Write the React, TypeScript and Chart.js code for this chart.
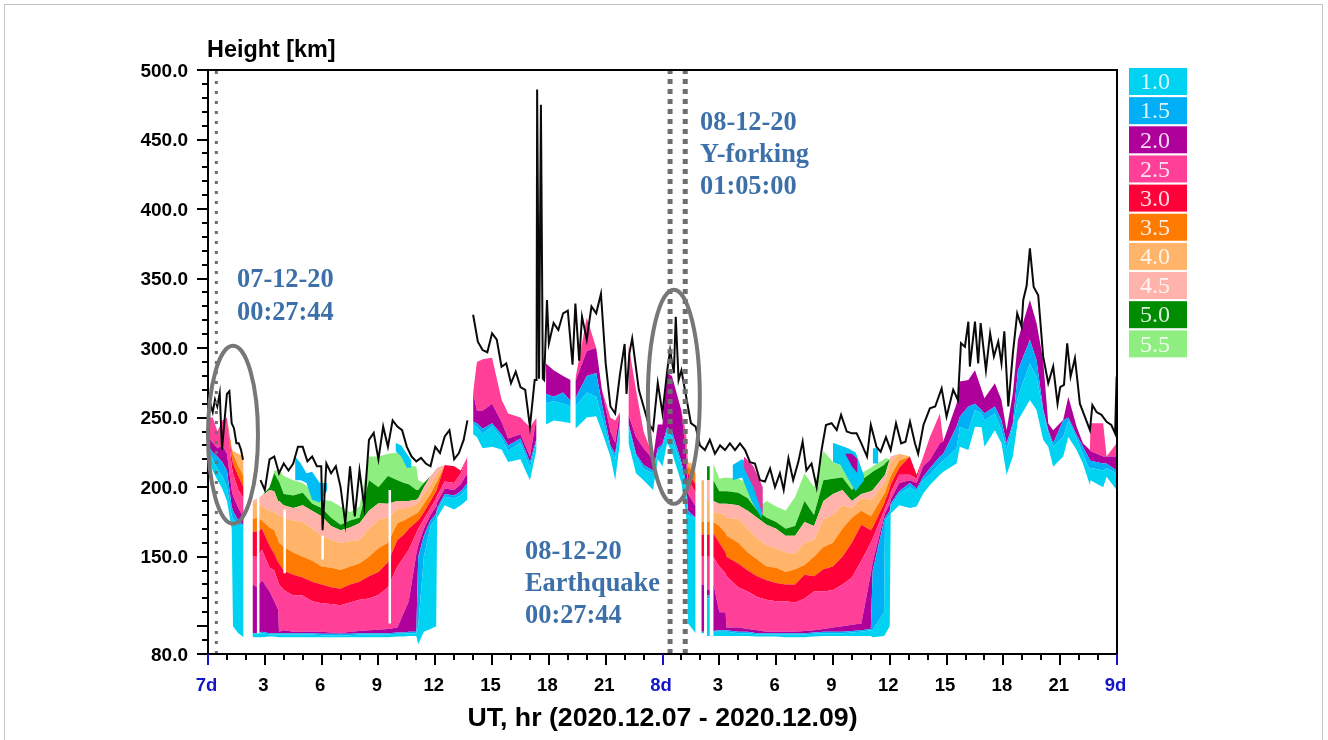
import React, { useEffect, useRef } from "react";
import { Chart, registerables } from "chart.js";

Chart.register(...registerables);

const _ = null;

// Sample times (hours since 7 Dec 00 UT) shared by every frequency band. Rows with a null base are data gaps.
const layerHours = [
  0, 0.25, 0.5, 0.75, 1, 1.25, 1.32, 1.6, 1.88, 2.1,
  2.35, 2.6, 2.85, 3.25, 3.5, 3.7, 3.75, 4, 4.5, 5,
  5.5, 6, 6.5, 7, 7.5, 8, 8.5, 9, 9.5, 10,
  10.35, 10.6, 11, 11.1, 11.4, 11.75, 12.05, 12.1, 12.5, 13,
  13.35, 13.7, 13.85, 14, 14.2, 14.5, 15, 15.5, 15.85, 16.5,
  17, 17.35, 17.6, 17.85, 18.25, 18.75, 19.15, 19.3, 19.4, 20,
  20.5, 20.8, 21.25, 21.5, 21.75, 21.95, 22.2, 22.6, 23, 23.5,
  23.75, 24, 24.25, 24.5, 25, 25.25, 25.35, 25.75, 25.9, 26.05,
  26.2, 26.27, 26.35, 26.5, 26.57, 26.68, 27, 27.33, 27.38, 28,
  28.5, 29, 29.5, 30, 30.5, 31, 31.5, 32, 32.5, 33,
  33.5, 34, 34.5, 35, 35.1, 35.7, 35.75, 36, 36.05, 36.5,
  37.06, 37.42, 37.77, 38.12, 38.65, 38.83, 39.53, 39.7, 40.15, 40.5,
  40.85, 41, 41.55, 41.9, 42.17, 42.5, 42.77, 43.4, 43.75, 44.1,
  44.37, 44.63, 45.16, 45.43, 45.87, 46.2, 46.57, 46.6, 47.27, 47.45,
  47.98,
];

const traceBase = [
  222, 212, 205, 199, 190, 170, 100, 95, 92, _,
  92, 92, 92, 92.5, 92.5, 92, 92, 92, 92, 92,
  92, 92, 92, 92, 92, 92, 92, 92, 92, 92.5,
  92.5, 93, 93, 87, 96, 98, 100, 178, 187, 184,
  187, 191, _, 238, 236, 228, 229, 227, 218, 220,
  205, 227, _, 245, 248, 247, 246, _, 242, 250,
  251, 240, 222, 205, 232, _, 232, 210, 205, 198,
  220, 215, 232, 225, 203, 180, 102, 95, _, 95,
  95, _, 93, 93, _, 93, 93, 93, 93, 93,
  93, 92.5, 92.5, 92.5, 92, 92, 92, 92.5, 93, 93,
  93, 93, 93, 93, 92, 93, 94, 100, 181, 187,
  185, 186, 195.5, 201.5, 209, 211, 217, 229, 226.7, 243.5,
  243, 229, 241, 231.5, 209, 222, 248, 262.7, 255.5, 234,
  229, 214.7, 222, 236, 226.7, 217, 201.5, 205, 200, 207.5,
  198,
];
const top10 = [
  226, 220, 213, 208, 200, 180, 177, 173, 172, _,
  95, 95, 95, 94, 94, 94, 94, 94, 94, 94,
  94, 93.5, 93.5, 93.5, 93.5, 94, 94, 94, 94, 94.5,
  94.5, 95, 95, 100, 150, 172, 178, 183, 193, 192,
  194, 200, _, 245, 243, 238, 244, 235, 226, 232,
  214, 233, _, 260, 262, 260, 258, _, 258, 268,
  265, 250, 228, 220, 245, _, 244, 222, 213, 210,
  225, 229, 240, 236, 215, 198, 180, 178, _, 96,
  96, _, 120, 120, _, 96, 96, 96, 96, 95,
  95, 94, 94, 94, 94, 94, 94, 94.5, 95, 95,
  95, 95.5, 96, 97, 97, 110, 176, 180, 186, 195,
  200, 197, 205, 209, 217, 219, 228, 243.5, 241, 255.5,
  253, 248, 253, 241, 226.7, 243.5, 265, 289, 279.5, 255.5,
  238.7, 229, 236, 248, 235, 224, 212, 214, 212, 213.5,
  210,
];
const top15 = [
  230, 225, 222, 218, 212, 186, 183, 176, 173, _,
  95, 95, 96, 95, 95, 95, 95, 95, 95, 95,
  95, 94.5, 94.5, 94.5, 94.5, 95, 95, 95, 95, 95.5,
  95.5, 96, 96, 150, 165, 176, 181, 185, 195, 194,
  197, 203, _, 247, 246, 242, 246, 238, 230, 235,
  218, 235, _, 267, 265, 268, 262, _, 264, 280,
  282, 260, 230, 224, 247, _, 246, 224, 216, 212,
  228, 231, 243, 240, 218, 203, 183, 178, _, 96,
  96, _, 122, 122, _, 96.5, 97, 97, 97, 96,
  96, 95, 95, 95, 95, 95, 95, 95.5, 96, 96,
  96, 96.5, 97, 98, 140, 176, 178, 183, 188, 197,
  203, 199, 207.5, 213.5, 222, 224, 243.5, 250.7, 258, 260,
  255.5, 253, 258, 248, 231.5, 246, 284, 306, 291.5, 256,
  241, 231.5, 248, 250, 237.5, 229, 219.5, 219, 217, 217,
  212,
];
const top20 = [
  236, 232, 228, 230, 224, 198, 194, 185, 178, _,
  130, 128, 133, 125, 118, 112, 96, 97, 96, 96,
  96, 96, 95.5, 95, 96, 96.5, 97, 97.5, 98, 99,
  110, 118, 152, 158, 170, 180, 186, 189, 199, 198,
  202, 210, _, 268, 255, 255, 260, 247, 235, 238,
  222, 250, _, 289, 284, 280, 277, _, 276, 298,
  300, 270, 240, 232, 254, _, 252, 236, 228, 220,
  245, 245, 282, 280, 255, 222, 195, 186, _, 130,
  130, _, 126, 126, _, 131, 110, 110, 99, 99,
  98, 97, 96, 96, 96, 96, 96.5, 97, 98, 99,
  100, 101, 102, 138, 146, 179, 181, 188, 191, 203,
  205, 203, 215, 219.5, 231.5, 233, 260, 276, 277, 284,
  270, 264, 274.7, 262.7, 241, 267.5, 306, 334.6, 318, 291.5,
  246, 241, 248.5, 265, 243.5, 231.5, 226.7, 226, 222, 222,
  222,
];
const top25 = [
  250, 250, 240, 248, 250, 215, 210, 198, 192, _,
  150, 150, 155, 142, 140, 132, 130, 126, 122, 122,
  118, 116.5, 116, 115, 117, 119, 120, 122.5, 128, 143,
  150, 155, 167, 170, 177, 185, 192, 194, 204, 203,
  210, 222, _, _, 290, 292, 293, 263, 253, 250,
  243, _, _, _, _, _, _, _, 278, 322,
  _, _, 250, 248, _, _, 303, 270, 240, 222,
  _, _, _, _, _, 235, 205, 196, _, 150,
  150, _, 150, 150, _, 150, 143, 138, 136, 128,
  125, 121, 119, 118, 118, 117, 120, 125, 125, 126,
  130, 135, 147, 160, 163, 183, 185, 193, 196, 209,
  209, 206, 222, 236, 253, _, _, _, _, _,
  _, _, _, _, _, _, _, _, _, _,
  _, _, _, _, _, _, _, 246, 246, _,
  231.5,
];
const top30 = [
  _, _, _, _, _, 222, 217, 208, 200, _,
  168, 168, 170, 158, 152, 146, 145, 140, 137, 135,
  132, 130, 128, 127, 130, 132, 136, 139, 146, 162,
  166, 170, 175, 176, 182, 190, 197, 199, 216, 215,
  212, _, _, _, _, _, _, _, _, _,
  _, _, _, _, _, _, _, _, _, _,
  _, _, _, _, _, _, _, _, _, _,
  _, _, _, _, _, 238, 210, 202, _, 166,
  166, _, 166, 166, _, 167, 160, 153, 150, 145,
  140, 136, 133, 131, 130, 130, 137, 136, 141, 143,
  150, 160, 173, 169, 171, 188, 190, 199, 202, 214,
  222, 209, _, _, _, _, _, _, _, _,
  _, _, _, _, _, _, _, _, _, _,
  _, _, _, _, _, _, _, _, _, _,
  _,
];
const top35 = [
  _, _, _, _, _, 228, 224, 215, 208, _,
  177, 178, 176, 171, 169, 162, 160, 157, 153, 150,
  147, 143, 142, 140.5, 143, 145, 150, 156, 160, 174,
  176, 178, 181, 182, 188, 195, 203, 204, _, _,
  _, _, _, _, _, _, _, _, _, _,
  _, _, _, _, _, _, _, _, _, _,
  _, _, _, _, _, _, _, _, _, _,
  _, _, _, _, _, _, 215, 210, _, 175,
  175, _, 175, 175, _, 175, 172, 167, 165, 160,
  153, 148, 143, 142, 139, 141, 144, 150, 157, 160,
  170, 178, 183, 179, 181, 195, 196, 206, 208, 219,
  _, _, _, _, _, _, _, _, _, _,
  _, _, _, _, _, _, _, _, _, _,
  _, _, _, _, _, _, _, _, _, _,
  _,
];
const top40 = [
  _, _, _, _, _, _, 226, 224, 222, _,
  188, 190, 186, 183, 182, 180, 180, 178, 176, 175,
  170, 165, 162, 160, 161, 162, 170, 176.5, 178, 184,
  185, 185, 188, 189, 195, 202, 209, 210, _, _,
  _, _, _, _, _, _, _, _, _, _,
  _, _, _, _, _, _, _, _, _, _,
  _, _, _, _, _, _, _, _, _, _,
  _, _, _, _, _, _, 218, 216, _, 205,
  205, _, 190, 190, _, 182, 181, 180, 178, 177,
  170, 163, 158, 156, 153, 152, 160, 162, 177, 180,
  187, 185, 192, 191, 192, 203, 204, 216, 218, 224,
  _, _, _, _, _, _, _, _, _, _,
  _, _, _, _, _, _, _, _, _, _,
  _, _, _, _, _, _, _, _, _, _,
  _,
];
const top45 = [
  _, _, _, _, _, _, _, _, _, _,
  190, 192, 194, 198, 197, 190, 190, 187, 185, 187,
  183, 179, 172, 169, 171, 174, 183, 188.5, 188, 190,
  190, 190, 191, 192, 200, 208, 213, 214, _, _,
  _, _, _, _, _, _, _, _, _, _,
  _, _, _, _, _, _, _, _, _, _,
  _, _, _, _, _, _, _, _, _, _,
  _, _, _, _, _, _, _, _, _, _,
  _, _, 205, 205, _, 190, 188, 188, 188, 187,
  183, 178, 173, 170, 165, 165, 175, 172, 190, 195,
  198, 190, 195, 197, 198, 208, 209, 220, 222, _,
  _, _, _, _, _, _, _, _, _, _,
  _, _, _, _, _, _, _, _, _, _,
  _, _, _, _, _, _, _, _, _, _,
  _,
];
const top50 = [
  _, _, _, _, _, _, _, _, _, _,
  _, _, _, 200, 210, 205, 204, 195, 194, 196,
  188, 185, 178, 173, 176, 178, 205, 200, 208, 205,
  203, 202, 198, 198, 203, _, _, _, _, _,
  _, _, _, _, _, _, _, _, _, _,
  _, _, _, _, _, _, _, _, _, _,
  _, _, _, _, _, _, _, _, _, _,
  _, _, _, _, _, _, _, _, _, _,
  _, _, 215, 215, _, 205, 197, 197, 197, 196,
  192, 183, 178, 175, 170, 172, 190, 180, 205, 206,
  207, 198, 205, 210, 211, 216, 217, _, _, _,
  _, _, _, _, _, _, _, _, _, _,
  _, _, _, _, _, _, _, _, _, _,
  _, _, _, _, _, _, _, _, _, _,
  _,
];
const top55 = [
  _, _, _, _, _, _, _, _, _, _,
  _, _, _, _, 212, 212, 212, 208, 205, 203,
  198, 191, 190, 186, 182, 186, 222, 222, 224, 225,
  220, 215, 215, 205, _, _, _, _, _, _,
  _, _, _, _, _, _, _, _, _, _,
  _, _, _, _, _, _, _, _, _, _,
  _, _, _, _, _, _, _, _, _, _,
  _, _, _, _, _, _, _, _, _, _,
  _, _, _, _, _, 217, 206, 207, 207, 206,
  203, 185, 190, 186, 183, 193, 210, 200, 226, 218,
  215, 205, 210, 214, 215, 220, 221, _, _, _,
  _, _, _, _, _, _, _, _, _, _,
  _, _, _, _, _, _, _, _, _, _,
  _, _, _, _, _, _, _, _, _, _,
  _,
];

const bandLabels = ["1.0", "1.5", "2.0", "2.5", "3.0", "3.5", "4.0", "4.5", "5.0", "5.5"];
const bandColors = ["#00d2f2", "#00aff5", "#b0009c", "#ff3f98", "#ff0038", "#ff7a00", "#ffb469", "#ffb3ab", "#008c00", "#8fee80"];
const bandTops = [top10, top15, top20, top25, top30, top35, top40, top45, top50, top55];

// Black upper envelope (km); null = gap
const blackHours = [
  0, 0.12, 0.25, 0.37, 0.49, 0.62, 0.74, 0.86, 1, 1.13, 1.25, 1.37, 1.5, 1.62, 1.74, 1.85, 2.2,
  2.77, 3, 3.25, 3.5, 3.75, 4, 4.25, 4.5, 4.75, 5, 5.25, 5.5, 5.75, 5.98, 6.05, 6.25, 6.5, 6.75, 7, 7.25, 7.5, 7.75, 8, 8.25,
  8.5, 8.75, 9, 9.25, 9.5, 9.75, 10, 10.25, 10.5, 10.75, 11, 11.25, 11.5, 11.75, 12, 12.25, 12.5, 12.75, 13, 13.25, 13.5, 13.7, 13.85,
  14, 14.25, 14.5, 14.75, 15, 15.25, 15.5, 15.75, 16, 16.25, 16.5, 16.75, 17, 17.25, 17.35, 17.38, 17.48, 17.58, 17.68, 17.75,
  17.9, 18, 18.25, 18.5, 18.75, 19, 19.25, 19.4, 19.6, 19.75, 20, 20.25, 20.5, 20.75, 21, 21.25, 21.5, 21.75, 22, 22.1, 22.25, 22.4,
  22.75, 23, 23.25, 23.5, 23.75, 24, 24.25, 24.4, 24.6, 24.7, 24.85, 25, 25.25, 25.5, 25.75,
  25.98, 26.24, 26.5, 26.77, 27.04, 27.3, 27.56, 27.83, 28.09, 28.36, 28.62, 28.88, 29.15, 29.41, 29.68, 29.94, 30.2, 30.4, 30.65, 30.9,
  31.17, 31.4, 31.6, 31.87, 32.14, 32.4, 32.63, 32.93, 33.2, 33.43, 33.73, 34, 34.25, 34.5, 34.8, 35, 35.3, 35.52, 35.8, 36.05,
  36.33, 36.6, 36.83, 37.07, 37.33, 37.5, 37.78, 38.12, 38.4, 38.74, 39, 39.35, 39.6, 39.76, 39.97, 40.15, 40.23, 40.5, 40.67, 40.8,
  41.08, 41.3, 41.5, 41.73, 41.9, 42.05, 42.26, 42.5, 42.73, 42.96, 43.05, 43.23, 43.4, 43.6, 43.84, 44.1, 44.37, 44.63, 44.86, 45,
  45.2, 45.37, 45.55, 45.78, 46.04, 46.3, 46.57, 46.7, 46.92, 47.18, 47.45, 47.7, 47.9, 47.98,
];
const blackKm = [
  248, 260, 254, 263, 258, 267.6, 227, 246, 267, 269, 246, 242.4, 231.6, 231.6, 227, 219.7, _,
  205, 198, 220, 222, 210, 217, 212, 217, 229, 229, 218.5, 222, 215, 215, 169, 217, 210, 215, 200, 174, 215, 179, 212, 186,
  234, 239, 220, 243.6, 229, 248, 243.6, 241, 229, 222, 218.5, 221, 217, 215, 229, 224.5, 236.5, 241, 220, 224.5, 234, 248, _,
  324, 304.6, 298.6, 297, 310.6, 306, 286.6, 289, 274.7, 283, 272, 270, 243.5, 277, 277, 486, 278, 475, 278, 277,
  334.6, 303.4, 318, 313, 325, 327, 288, 332, 291, 322.6, 306, 330, 325, 339, 289, 258, 253, 280.7, 303, 267, 296, 307,
  270, 258, 246, 241, 275, 253, 284, 298.6, 282, 322.6, 277, 284, 265, 246, 243.5,
  230, 226.7, 234, 224, 230, 226.7, 231.5, 226.7, 231.5, 226.7, 218, 217, 205, 204, 213.5, 200, 210, 198, 220.7, 205,
  218, 232.7, 212, 217, 200, 226.7, 244.7, 246, 241, 252, 240, 238.7, 238.7, 231.5, 222, 244.7, 229, 225.5, 236, 226.7,
  246, 231.5, 232.7, 247, 231.5, 224, 244.7, 256.7, 258, 271, 250.7, 270, 262.7, 303.5, 301, 319, 286.7, 319, 289, 318,
  284, 310.7, 294, 304.7, 289, 312, 258, 296, 325, 315.5, 334.6, 345, 371.8, 344, 338, 294, 274.7, 286.7, 260, 272,
  273.5, 303.5, 279.5, 292.7, 260, 250.7, 241, 259, 254, 252, 247, 244.7, 238.7, 279.5,
];

// Echo patches seen above the main trace: [hours], [low km], [high km]
const patchBlue1Hours = [4.6, 4.9, 5.2, 5.5, 5.9, 6.3];
const patchBlue1Low = [205, 205, 203, 191, 189, 198];
const patchBlue1High = [222, 217, 210, 211, 203, 203];
const patchBlue2Hours = [9.9, 10.2, 10.5, 10.75];
const patchBlue2Low = [226, 222, 214, 214];
const patchBlue2High = [232, 230, 224, 219];
const patchBlue3Hours = [27.7, 28.2, 28.7, 29.25];
const patchBlue3Low = [205, 207, 190, 177];
const patchBlue3High = [216, 220, 216, 190];
const patchPink1Hours = [28.3, 28.8, 29.3];
const patchPink1Low = [214, 200, 180];
const patchPink1High = [222, 215, 200];
const patchBlue4Hours = [33, 33.4, 33.8, 34.2, 34.65];
const patchBlue4Low = [218, 216, 206, 197, 205];
const patchBlue4High = [232, 230, 228, 225, 208];
const patchMagentaHours = [33.65, 34, 34.3];
const patchMagentaLow = [224, 215, 210];
const patchMagentaHigh = [224, 224, 220];
const patchBlue5Hours = [35.1, 35.4];
const patchBlue5Low = [217, 217];
const patchBlue5High = [228, 228];

// White no-data columns
const stripeHours = [2.65, 4.05, 6.05, 9.6];
const stripeTop = [194, 184, 165, 198];
const stripeBottom = [95, 138, 148, 102];

const eventHours = [0.44, 24.4, 25.2];
const xMajor = [0, 3, 6, 9, 12, 15, 18, 21, 24, 27, 30, 33, 36, 39, 42, 45, 48];
const yLabelled = [80, 150, 200, 250, 300, 350, 400, 450, 500];
const yUnlabelledMajor = [100];

const noteLeft = ["07-12-20", "00:27:44"];
const noteRight = ["08-12-20", "Y-forking", "01:05:00"];
const noteQuake = ["08-12-20", "Earthquake", "00:27:44"];

const pts = (xs: number[], ys: (number | null)[]) => xs.map((x, i) => ({ x, y: ys[i] }));

function bandDatasets() {
  const out: any[] = [];
  out.push({
    label: "base",
    data: pts(layerHours, traceBase),
    borderWidth: 0,
    pointRadius: 0,
    fill: false,
    tension: 0,
  });
  let carry: (number | null)[] = traceBase;
  bandTops.forEach((arr, b) => {
    const ys = arr.map((v, i) => (traceBase[i] === null ? null : v ?? carry[i]));
    carry = ys;
    out.push({
      label: bandLabels[b],
      data: pts(layerHours, ys),
      borderWidth: 0,
      pointRadius: 0,
      backgroundColor: bandColors[b],
      fill: "-1",
      tension: 0,
    });
  });
  return out;
}

function patch(name: string, hours: number[], low: number[], high: number[], color: string) {
  return [
    { label: name + " low", data: pts(hours, low), borderWidth: 0, pointRadius: 0, fill: false },
    { label: name, data: pts(hours, high), borderWidth: 0, pointRadius: 0, backgroundColor: color, fill: "-1" },
  ];
}

const pageArt = {
  id: "pageArt",
  beforeDraw(chart: any) {
    const c = chart.ctx;
    c.save();
    c.fillStyle = "#fff";
    c.fillRect(0, 0, chart.width, chart.height);
    c.strokeStyle = "#c4c4c4";
    c.lineWidth = 1;
    c.strokeRect(4.5, 4.5, 1318, 800);
    c.restore();
  },
  afterDraw(chart: any) {
    const c = chart.ctx;
    const { x, y } = chart.scales;
    const a = chart.chartArea;
    c.save();
    // frame
    c.strokeStyle = "#000";
    c.lineWidth = 2;
    c.strokeRect(a.left, a.top, a.right - a.left, a.bottom - a.top);
    // y ticks
    c.lineWidth = 2;
    c.beginPath();
    for (let v = 80; v <= 500; v += 10) {
      const major = yLabelled.includes(v) || yUnlabelledMajor.includes(v);
      const p = Math.round(y.getPixelForValue(v));
      c.moveTo(a.left, p);
      c.lineTo(a.left - (major ? 11 : 6), p);
    }
    c.stroke();
    // x ticks
    for (let h = 0; h <= 48; h++) {
      const p = Math.round(x.getPixelForValue(h));
      c.beginPath();
      c.strokeStyle = h % 24 === 0 ? "#1414c8" : "#000";
      c.moveTo(p, a.bottom);
      c.lineTo(p, a.bottom + (xMajor.includes(h) ? 11 : 6));
      c.stroke();
    }
    // ellipses
    c.strokeStyle = "#777";
    c.lineWidth = 4;
    [[1.32, 237.6, 1.32, 64], [24.6, 265, 1.37, 77]].forEach(([h, km, rh, rk]) => {
      c.beginPath();
      c.ellipse(
        x.getPixelForValue(h),
        y.getPixelForValue(km),
        x.getPixelForValue(rh) - x.getPixelForValue(0),
        y.getPixelForValue(0) - y.getPixelForValue(rk),
        0, 0, Math.PI * 2
      );
      c.stroke();
    });
    // notes
    c.fillStyle = "#3d70a8";
    c.font = "bold 26.4px 'Liberation Serif'";
    c.textAlign = "left";
    c.textBaseline = "middle";
    noteLeft.forEach((t, i) => c.fillText(t, 237, 280 + i * 33));
    noteRight.forEach((t, i) => c.fillText(t, 700, 123 + i * 32));
    noteQuake.forEach((t, i) => c.fillText(t, 525, 552 + i * 32));
    // y heading
    c.fillStyle = "#000";
    c.font = "bold 23.4px 'Liberation Sans'";
    c.fillText("Height [km]", 207, 51);
    // legend
    bandLabels.forEach((t, i) => {
      const top = 68 + i * 29.15;
      c.fillStyle = bandColors[i];
      c.fillRect(1129, top, 58, 27);
      c.fillStyle = "rgba(255,255,255,0.85)";
      c.font = "24px 'Liberation Serif'";
      c.textAlign = "center";
      c.fillText(t, 1155, top + 15);
    });
    c.restore();
  },
};

export default function App() {
  const ref = useRef<HTMLCanvasElement | null>(null);
  useEffect(() => {
    const stripes: any[] = [];
    stripeHours.forEach((h, i) => {
      stripes.push({ x: h, y: stripeTop[i] }, { x: h, y: stripeBottom[i] }, { x: h, y: null });
    });
    const chart = new Chart(ref.current as HTMLCanvasElement, {
      type: "line",
      data: {
        datasets: [
          ...eventHours.map((h, i) => ({
            label: "event " + i,
            data: [{ x: h, y: 80 }, { x: h, y: 500 }],
            borderColor: "#6e6e6e",
            borderWidth: i === 0 ? 3 : 5,
            borderDash: i === 0 ? [3, 7] : [5, 5],
            pointRadius: 0,
            fill: false,
          })),
          {
            label: "maximum",
            data: pts(blackHours, blackKm),
            borderColor: "#0a0a0a",
            borderWidth: 2,
            pointRadius: 0,
            fill: false,
            tension: 0,
          },
          {
            label: "no data",
            data: stripes,
            borderColor: "#fff",
            borderWidth: 2.5,
            pointRadius: 0,
            fill: false,
          },
          ...patch("p1", patchBlue1Hours, patchBlue1Low, patchBlue1High, "#00bdf5"),
          ...patch("p2", patchBlue2Hours, patchBlue2Low, patchBlue2High, "#00c8f2"),
          ...patch("p6", patchMagentaHours, patchMagentaLow, patchMagentaHigh, "#b0009c"),
          ...patch("p4", patchPink1Hours, patchPink1Low, patchPink1High, "#e0389e"),
          ...patch("p3", patchBlue3Hours, patchBlue3Low, patchBlue3High, "#00bdf5"),
          ...patch("p5", patchBlue4Hours, patchBlue4Low, patchBlue4High, "#00c8f2"),
          ...patch("p7", patchBlue5Hours, patchBlue5Low, patchBlue5High, "#00c8f2"),
          ...bandDatasets(),
        ] as any,
      },
      options: {
        animation: false,
        responsive: false,
        parsing: { xAxisKey: "x", yAxisKey: "y" } as any,
        layout: { padding: { left: 0, top: 70, right: 211, bottom: 0 } },
        plugins: { legend: { display: false }, tooltip: { enabled: false }, title: { display: false } },
        elements: { line: { borderJoinStyle: "miter" } },
        scales: {
          x: {
            type: "linear",
            min: 0,
            max: 48,
            grid: { display: false, drawTicks: false },
            border: { color: "#000", width: 2 },
            afterFit(s: any) { s.height = 86; },
            afterBuildTicks(s: any) { s.ticks = xMajor.map((value) => ({ value })); },
            ticks: {
              padding: 21,
              labelOffset: -1.5,
              maxRotation: 0,
              autoSkip: false,
              font: { family: "'Liberation Sans'", weight: "bold", size: 18.5 },
              color: (ctx: any) => (ctx.tick.value % 24 === 0 ? "#1414c8" : "#000"),
              callback: (v: any) => (v % 24 === 0 ? `${7 + v / 24}d` : String(v % 24)),
            },
            title: {
              display: true,
              text: "UT, hr (2020.12.07 - 2020.12.09)",
              color: "#000",
              font: { family: "'Liberation Sans'", weight: "bold", size: 26.7 },
              padding: { top: 0, bottom: 5 },
            },
          },
          y: {
            type: "linear",
            min: 80,
            max: 500,
            grid: { display: false, drawTicks: false },
            border: { color: "#000", width: 2 },
            afterFit(s: any) { s.width = 208; },
            afterBuildTicks(s: any) { s.ticks = yLabelled.map((value) => ({ value })); },
            ticks: {
              padding: 20,
              labelOffset: 1.5,
              autoSkip: false,
              color: "#000",
              font: { family: "'Liberation Sans'", weight: "bold", size: 19 },
              callback: (v: any) => Number(v).toFixed(1),
            },
          },
        },
      } as any,
      plugins: [pageArt],
    });
    return () => chart.destroy();
  }, []);
  return (
    <div style={{ position: "absolute", left: 0, top: 0, width: 1328, height: 740, overflow: "hidden" }}>
      <canvas ref={ref} width={1328} height={740} style={{ display: "block", width: 1328, height: 740, filter: "blur(0.6px)" }} />
    </div>
  );
}
